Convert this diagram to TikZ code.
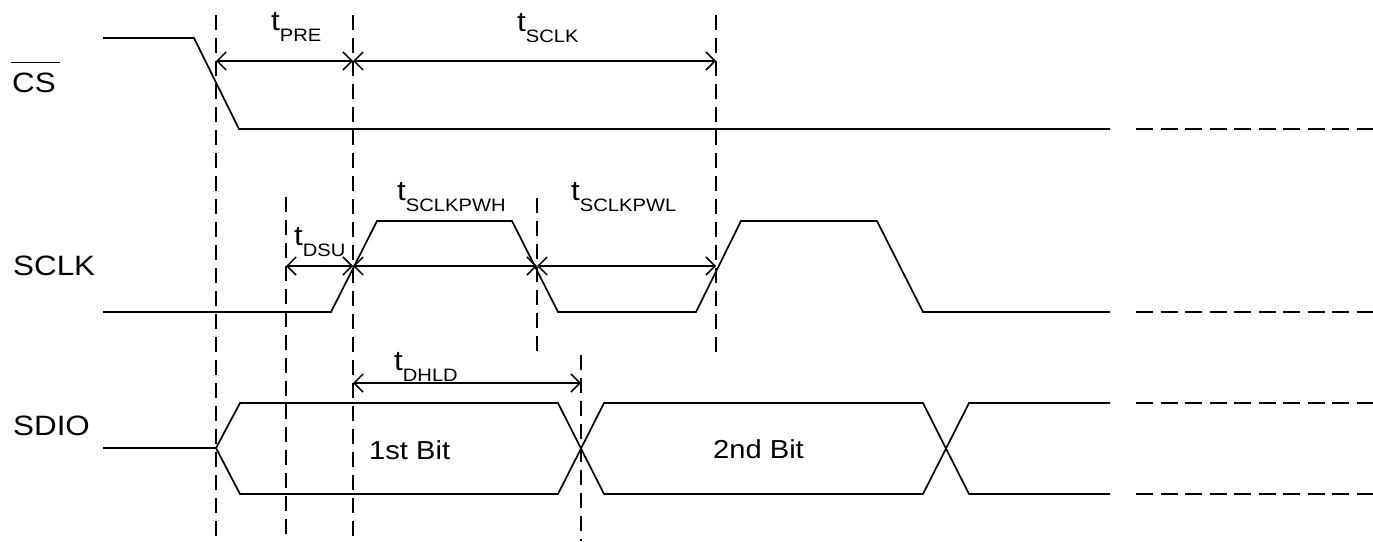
\documentclass[tikz,border=0pt]{standalone}
\usepackage{fontspec}
\setmainfont{Liberation Sans}[FakeStretch=1.12]
\usetikzlibrary{arrows.meta}
\newcommand\tlab[1]{t\raisebox{-11pt}{\fontsize{18}{18}\selectfont #1}}
\begin{document}
\begin{tikzpicture}[x=1pt,y=-1pt,
  sig/.style={line width=1.7pt, line join=miter},
  guide/.style={line width=1.5pt, dash pattern=on 15pt off 8pt},
  cont/.style={line width=1.7pt, dash pattern=on 17pt off 7.5pt},
  dim/.style={line width=1.5pt, {Straight Barb[length=9pt,width=18pt]}-{Straight Barb[length=9pt,width=18pt]}},
  lbl/.style={inner sep=0pt, anchor=base west, font=\fontsize{28}{30}\selectfont},
  bitlbl/.style={inner sep=0pt, anchor=base west, font=\fontsize{26}{28}\selectfont}]
\useasboundingbox (0,0) rectangle (1373,541);

% guide line coordinates
\coordinate (gA) at (216,15);  \coordinate (gAb) at (216,541);
\coordinate (gB) at (353,15);  \coordinate (gBb) at (353,541);
\coordinate (gC) at (716,15);  \coordinate (gCb) at (716,358);
\coordinate (gD) at (286,197); \coordinate (gDb) at (286,541);
\coordinate (gE) at (537,198); \coordinate (gEb) at (537,355);
\coordinate (gF) at (581,355); \coordinate (gFb) at (581,541);

\draw[guide] (gA) -- (gAb);
\draw[guide] (gB) -- (gBb);
\draw[guide] (gC) -- (gCb);
\draw[guide] (gD) -- (gDb);
\draw[guide] (gE) -- (gEb);
\draw[guide] (gF) -- (gFb);

% signal labels
\node[lbl] (cs) at (12,92) {CS};
\draw[line width=1.5pt] ([xshift=-1pt,yshift=10pt]cs.north west) -- ([xshift=4pt,yshift=10pt]cs.north east);
\node[lbl] (sclk) at (13,275) {SCLK};
\node[lbl] (sdio) at (13,435) {SDIO};

% CS
\draw[sig] (103,38) -- (194,38) -- (239,129) -- (1110,129);
\draw[cont] (1136,129) -- (1373,129);

% SCLK
\draw[sig] (103,312) -- (331,312) -- (377,221) -- (512,221) -- (558,312)
  -- (696,312) -- (741,221) -- (877,221) -- (923,312) -- (1110,312);
\draw[cont] (1136,312) -- (1373,312);

% SDIO
\draw[sig] (103,448) -- (216,448) -- (240,403) -- (558,403) -- (604,494)
  -- (923,494) -- (969,403) -- (1110,403);
\draw[sig] (216,448) -- (240,494) -- (558,494) -- (604,403)
  -- (923,403) -- (969,494) -- (1110,494);
\draw[cont] (1136,403) -- (1373,403);
\draw[cont] (1136,494) -- (1373,494);

% dimension arrows
\coordinate (pA) at (216,61); \coordinate (pB) at (353,61); \coordinate (pC) at (716,61);
\draw[dim] (pA) -- (pB);
\draw[dim] (pB) -- (pC);
\coordinate (sD) at (286,266); \coordinate (sB) at (353,266);
\coordinate (sE) at (537,266); \coordinate (sC) at (716,266);
\draw[dim] (sD) -- (sB);
\draw[dim] (sB) -- (sE);
\draw[dim] (sE) -- (sC);
\coordinate (hB) at (353,383); \coordinate (hF) at (581,383);
\draw[dim] (hB) -- (hF);

% timing labels
\node[lbl] (tpre) at (271,30) {\tlab{PRE}};
\node[lbl] (tsclk) at (517,31) {\tlab{SCLK}};
\node[lbl] (tpwh) at (397,200) {\tlab{SCLKPWH}};
\node[lbl] (tpwl) at (571,200) {\tlab{SCLKPWL}};
\node[lbl] (tdsu) at (294,245) {\tlab{DSU}};
\node[lbl] (tdhld) at (394,370) {\tlab{DHLD}};

% bit labels
\node[bitlbl] (b1) at (369,459) {1st Bit};
\node[bitlbl] (b2) at (713,458) {2nd Bit};
\end{tikzpicture}
\end{document}
